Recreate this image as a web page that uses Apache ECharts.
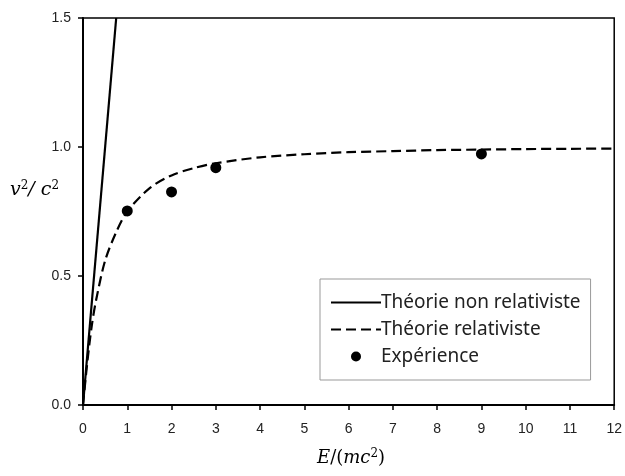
<!doctype html>
<html lang="fr">
 <head>
  <meta charset="UTF-8">
  <style type="text/css">
  html,body{margin:0;padding:0;background:#fff;}
  #chart{width:625px;height:476px;}
  </style>
  <script src="https://cdn.jsdelivr.net/npm/echarts@6/dist/echarts.min.js"></script>
  <title>v2/c2 en fonction de E/(mc2)</title>
 </head>
 <body>
    <div id="chart"></div>
    <script type="text/javascript">
    // théorie non relativiste (droite)
    var nonRelE = [0, 0.75];
    var nonRelV = [0, 1.5];
    // théorie relativiste (courbe)
    var relE = [0, 0.1, 0.2, 0.3, 0.5, 0.75, 1, 1.5, 2, 2.5, 3, 4, 5, 6, 7, 8, 9, 10, 11, 12];
    var relV = [0, 0.17, 0.31, 0.41, 0.56, 0.67, 0.75, 0.84, 0.89, 0.918, 0.937, 0.96, 0.972, 0.98, 0.984, 0.988, 0.99, 0.992, 0.993, 0.994];
    // points expérimentaux
    var expE = [1, 2, 3, 9];
    var expV = [0.752, 0.826, 0.92, 0.973];
    var xTicks = [0, 1, 2, 3, 4, 5, 6, 7, 8, 9, 10, 11, 12];
    var yTicks = ['0.0', '0.5', '1.0', '1.5'];

    function pairs(a, b){
        var out = [];
        for(var i = 0; i < a.length; i++){
            out.push([a[i], b[i]]);
        }
        return out;
    }

    var myChart = echarts.init(document.getElementById('chart'));
    var tickFont = {color: '#222', fontSize: 14, fontFamily: 'Liberation Sans'};
    var option = {
        animation: false,
        backgroundColor: '#fff',
        grid: {
            left: 83, right: 5, top: 18, bottom: 71,
            show: true, borderColor: '#000', borderWidth: 1.5
        },
        xAxis: {
            type: 'value', min: 0, max: xTicks[xTicks.length - 1], interval: 1,
            axisLine: {onZero: false, lineStyle: {color: '#000', width: 2}},
            axisTick: {length: 5, lineStyle: {color: '#000', width: 1.5}},
            axisLabel: Object.assign({margin: 17}, tickFont),
            splitLine: {show: false}
        },
        yAxis: {
            type: 'value', min: 0, max: 1.5, interval: 0.5,
            axisLine: {show: true, onZero: false, lineStyle: {color: '#000', width: 2}},
            axisTick: {show: true, length: 5, lineStyle: {color: '#000', width: 1.5}},
            axisLabel: Object.assign({margin: 12, formatter: function(v){
                return yTicks[Math.round(v / 0.5)];
            }}, tickFont),
            splitLine: {show: false}
        },
        legend: {
            left: 320, top: 279, width: 273,
            orient: 'vertical',
            backgroundColor: '#fff',
            borderColor: '#999', borderWidth: 1,
            padding: [14, 10, 14, 10],
            itemWidth: 50, itemHeight: 10, itemGap: 8,
            textStyle: {fontFamily: 'Noto Sans', fontSize: 19, color: '#222', padding: [0, 0, 0, -5]},
            data: [
                {name: 'Théorie non relativiste', itemStyle: {opacity: 0}},
                {name: 'Théorie relativiste', itemStyle: {opacity: 0}},
                {name: 'Expérience', itemStyle: {color: '#000', opacity: 1}}
            ]
        },
        graphic: [
            {
                type: 'text', left: 10, top: 180,
                style: {
                    text: '{a|v}{s|2}{a|/ c}{s|2}',
                    rich: {
                        a: {fontFamily: 'DejaVu Serif', fontStyle: 'italic', fontSize: 19, color: '#222'},
                        s: {fontFamily: 'DejaVu Serif', fontSize: 12, color: '#222', verticalAlign: 'top', padding: [0, 0, 8, 0]}
                    }
                }
            },
            {
                type: 'text', left: 317, top: 448,
                style: {
                    text: '{a|E}{b|/(}{a|mc}{s|2}{b|)}',
                    rich: {
                        a: {fontFamily: 'DejaVu Serif', fontStyle: 'italic', fontSize: 18, color: '#222'},
                        b: {fontFamily: 'DejaVu Serif', fontSize: 18, color: '#222'},
                        s: {fontFamily: 'DejaVu Serif', fontSize: 12, color: '#222', verticalAlign: 'top', padding: [0, 0, 8, 0]}
                    }
                }
            }
        ],
        series: [
            {
                name: 'Théorie non relativiste', type: 'line',
                data: pairs(nonRelE, nonRelV),
                showSymbol: false, symbol: 'none',
                lineStyle: {color: '#000', width: 2.2},
                itemStyle: {color: '#000'}
            },
            {
                name: 'Théorie relativiste', type: 'line',
                data: pairs(relE, relV),
                smooth: 0.3, showSymbol: false, symbol: 'none',
                lineStyle: {color: '#000', width: 2.2, type: [10, 5]},
                itemStyle: {color: '#000'}
            },
            {
                name: 'Expérience', type: 'scatter',
                data: pairs(expE, expV),
                symbol: 'circle', symbolSize: 11,
                itemStyle: {color: '#000', opacity: 1}
            }
        ]
    };
    myChart.setOption(option);
    </script>
 </body>
</html>
